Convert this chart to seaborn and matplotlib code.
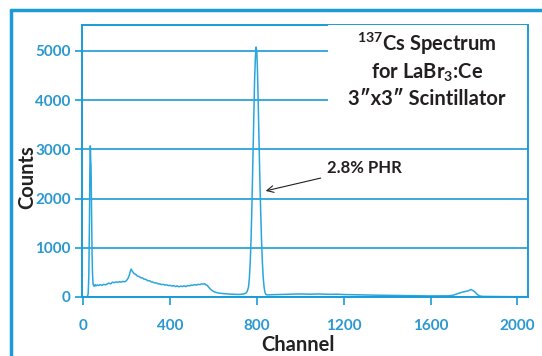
import numpy as np
import pandas as pd
import matplotlib.pyplot as plt
import seaborn as sns
from matplotlib.patches import Rectangle
from matplotlib.lines import Line2D

# spectrum (channel, counts)
channel = [0, 10, 20, 24, 27, 30, 32, 34, 35, 36, 37, 38, 40, 42, 44, 46, 48,
           52, 56, 60, 66, 72, 80, 88, 96, 104, 112, 120, 128, 136, 144, 152,
           160, 168, 176, 184, 192, 200, 208, 214, 218, 222, 226, 230, 236,
           242, 250, 258, 266, 274, 282, 290, 298, 306, 314, 322, 330, 338,
           346, 354, 362, 370, 378, 386, 394, 402, 410, 418, 426, 434, 442,
           450, 458, 466, 474, 482, 490, 498, 506, 514, 522, 530, 538, 546,
           554, 560, 566, 572, 578, 584, 590, 598, 606, 614, 622, 630, 640,
           650, 660, 670, 680, 690, 700, 710, 720, 730, 740, 748, 756, 762,
           766, 770, 774, 778, 782, 786, 790, 794, 797, 800, 803, 806, 810,
           814, 818, 822, 826, 830, 834, 838, 842, 850, 870, 900, 930, 960,
           990, 1020, 1050, 1080, 1110, 1140, 1170, 1200, 1230, 1260, 1290,
           1320, 1350, 1380, 1410, 1440, 1470, 1500, 1530, 1560, 1590, 1620,
           1650, 1680, 1700, 1715, 1730, 1745, 1760, 1775, 1785, 1795, 1805,
           1815, 1825, 1840, 1880, 1920, 1960, 2000, 2040]
counts = [0, 0, 5, 60, 400, 1500, 2600, 3070, 2950, 2750, 2700, 2400, 1600,
          900, 500, 300, 240, 215, 250, 225, 245, 230, 250, 235, 255, 245,
          265, 280, 265, 300, 290, 305, 295, 310, 300, 315, 305, 330, 380,
          450, 520, 565, 530, 505, 470, 460, 425, 415, 390, 385, 360, 355,
          330, 330, 305, 300, 285, 285, 265, 265, 250, 255, 240, 245, 230,
          235, 220, 230, 210, 225, 205, 220, 210, 225, 210, 230, 225, 240,
          235, 250, 240, 255, 250, 265, 260, 268, 245, 235, 200, 170, 145,
          120, 100, 90, 80, 75, 70, 65, 62, 60, 55, 55, 52, 50, 50, 55, 60,
          70, 110, 200, 380, 700, 1200, 1900, 2750, 3600, 4400, 4900, 5080,
          5000, 4650, 4100, 3250, 2450, 1750, 1150, 700, 380, 190, 90, 50,
          40, 45, 48, 50, 55, 60, 58, 55, 60, 55, 52, 55, 48, 45, 42, 40, 38,
          35, 33, 32, 30, 28, 25, 24, 22, 20, 20, 20, 22, 30, 50, 75, 95,
          110, 125, 150, 130, 95, 50, 20, 10, 8, 6, 5, 5, 5]

x_ticks = [0, 400, 800, 1200, 1600, 2000]
y_ticks = [0, 1000, 2000, 3000, 4000, 5000]

df = pd.DataFrame({'Channel': channel, 'Counts': counts})

sns.set_style('white')
plt.rcParams['font.family'] = ['Lato', 'DejaVu Sans']
plt.rcParams['mathtext.fontset'] = 'custom'
plt.rcParams['mathtext.rm'] = 'Lato'
plt.rcParams['mathtext.bf'] = 'Lato:bold'

blue = '#1b9bd7'
line_blue = '#2aa6df'

fig = plt.figure(figsize=(5.42, 3.56), dpi=100)
ax = fig.add_axes([0.151, 0.166, 0.823, 0.764])

# outer frame
fig.add_artist(Line2D([11 / 542, 1.0], [1 - 10 / 356] * 2, color=blue, lw=2.5))
fig.add_artist(Line2D([11 / 542] * 2, [0.0, 1 - 10 / 356], color=blue, lw=2.5))

sns.lineplot(data=df, x='Channel', y='Counts', ax=ax, color=line_blue, lw=1.1)

ax.set_xlim(-5, 2048)
ax.set_ylim(0, 5530)
ax.set_xticks(x_ticks)
ax.set_yticks(y_ticks)
ax.yaxis.grid(True, color=blue, lw=1.2)
ax.set_axisbelow(True)
for s in ax.spines.values():
    s.set_color(blue)
    s.set_linewidth(1.4)

ax.tick_params(axis='x', colors=blue, length=6, width=1.2, pad=10,
               labelsize=11, direction='out', bottom=True)
ax.tick_params(axis='y', colors=blue, length=5, width=1.2, pad=3,
               labelsize=11, direction='out', left=True)
for lab in ax.get_xticklabels() + ax.get_yticklabels():
    lab.set_fontweight('bold')
    lab.set_color('#2b98d0')

ax.set_xlabel('Channel', fontsize=14.5, fontweight='bold', color='#222222')
ax.set_ylabel('Counts', fontsize=14.5, fontweight='bold', color='#222222')
ax.xaxis.set_label_coords(0.485, -0.14)
ax.yaxis.set_label_coords(-0.10, 0.44)

# title box
ax.add_patch(Rectangle((0.552, 0.67), 0.445, 0.328, transform=ax.transAxes,
                       facecolor='white', edgecolor='none', zorder=3))
tx = 0.773
ax.text(tx, 0.930, r'$^{\mathbf{137}}$Cs Spectrum', transform=ax.transAxes,
        ha='center', va='center', fontsize=14.5, fontweight='bold',
        color='#231f20', zorder=4)
ax.text(tx, 0.824, r'for LaBr$_{\mathbf{3}}$:Ce', transform=ax.transAxes,
        ha='center', va='center', fontsize=14.5, fontweight='bold',
        color='#231f20', zorder=4)
ax.text(tx, 0.728, '3\u2033x3\u2033 Scintillator', transform=ax.transAxes,
        ha='center', va='center', fontsize=14.5, fontweight='bold',
        color='#231f20', zorder=4)

ax.annotate('2.8% PHR', xy=(841, 2155), xytext=(1122, 2622),
            fontsize=12, fontweight='bold', color='#231f20',
            ha='left', va='center',
            arrowprops=dict(arrowstyle='->', color='#231f20', lw=0.8,
                            shrinkA=2, shrinkB=0))

fig.savefig('out.png', dpi=100)
